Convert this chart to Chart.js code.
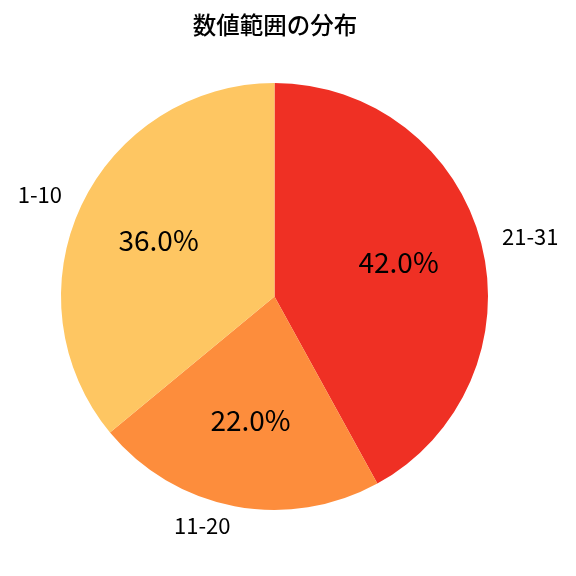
<!DOCTYPE html>
<html>
<head>
<meta charset="utf-8">
<script src="https://cdn.jsdelivr.net/npm/chart.js@4.4.1/dist/chart.umd.min.js"></script>
<style>
  html, body { margin: 0; padding: 0; background: #fff; }
  #wrap { width: 576px; height: 576px; }
</style>
</head>
<body>
<div id="wrap"><canvas id="pieChart" width="576" height="576"></canvas></div>
<script>
const TITLE = "数値範囲の分布";
const labels = ["21-31", "11-20", "1-10"];
const values = [42.0, 22.0, 36.0];
const colors = ["#ef3024", "#fd8d3c", "#fec662"];

const FONT = '"Noto Sans CJK JP", "Noto Sans", sans-serif';

// draws title, percentages inside and category names outside
const pieLabels = {
  id: "pieLabels",
  afterDatasetsDraw(chart) {
    const ctx = chart.ctx;
    const meta = chart.getDatasetMeta(0);
    const total = values.reduce((a, b) => a + b, 0);

    ctx.save();
    ctx.fillStyle = "#000";
    ctx.textBaseline = "middle";

    ctx.font = "500 23.5px " + FONT;
    ctx.textAlign = "center";
    ctx.fillText(TITLE, 275, 25);

    meta.data.forEach((arc, i) => {
      const { x, y, startAngle, endAngle, outerRadius } = arc.getProps(
        ["x", "y", "startAngle", "endAngle", "outerRadius"],
        true
      );
      const mid = (startAngle + endAngle) / 2;
      const cos = Math.cos(mid);
      const sin = Math.sin(mid);

      ctx.font = "28px " + FONT;
      ctx.textAlign = "center";
      const pct = ((values[i] / total) * 100).toFixed(1) + "%";
      ctx.fillText(pct, x + cos * outerRadius * 0.6, y + sin * outerRadius * 0.6 - 2);

      ctx.font = "22px " + FONT;
      ctx.textAlign = cos >= 0 ? "left" : "right";
      ctx.fillText(labels[i], x + cos * outerRadius * 1.1, y + sin * outerRadius * 1.1 - 1.5);
    });
    ctx.restore();
  },
};

new Chart(document.getElementById("pieChart"), {
  type: "pie",
  data: {
    labels,
    datasets: [
      {
        data: values,
        backgroundColor: colors,
        borderWidth: 0,
      },
    ],
  },
  options: {
    responsive: false,
    animation: false,
    layout: {
      padding: { left: 61, right: 88, top: 83, bottom: 66 },
    },
    plugins: {
      legend: { display: false },
      tooltip: { enabled: false },
      title: { display: false },
    },
  },
  plugins: [pieLabels],
});
</script>
</body>
</html>
